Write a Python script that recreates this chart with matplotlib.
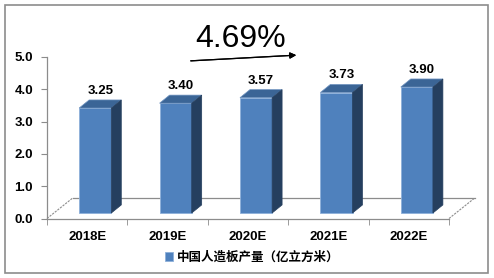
import matplotlib
matplotlib.use("Agg")
import matplotlib.pyplot as plt
from matplotlib.patches import Polygon, Rectangle

# data
years = ["2018E", "2019E", "2020E", "2021E", "2022E"]
output = [3.25, 3.40, 3.57, 3.73, 3.90]
series_name = "中国人造板产量（亿立方米）"
growth_text = "4.69%"

FRONT = "#4F81BD"
TOP = "#3B6596"
SIDE = "#253F5F"
GRID = "#8C8C8C"

# fake 3D geometry (axis units)
base = 0.17
bar_w = 0.4
bar_shift = 0.1
dx, dy = 0.124, 0.25
floor_dx, floor_y = 0.32, 0.635

W, H = 494, 278
fig = plt.figure(figsize=(W / 100, H / 100), dpi=100)
ax = fig.add_axes([47 / W, 1 - 218.5 / H, (449 - 47) / W, (218.5 - 57) / H])
ax.set_xlim(-0.5, len(years) - 0.5)
ax.set_ylim(0, 5)

# floor
ax.plot([-0.5, -0.5 + floor_dx], [0, floor_y], color=GRID, lw=0.8, ls=(0, (2, 1)),
        clip_on=False)
ax.plot([len(years) - 0.5, len(years) - 0.5 + floor_dx], [0, floor_y], color=GRID,
        lw=0.8, ls=(0, (2, 1)), clip_on=False)
ax.plot([-0.5 + floor_dx, len(years) - 0.5 + floor_dx], [floor_y, floor_y],
        color=GRID, lw=0.9, clip_on=False)

xs = [i + bar_shift for i in range(len(years))]
bars = ax.bar(xs, output, width=bar_w, bottom=base, color=FRONT,
              edgecolor="#8EB0DA", linewidth=0.6, zorder=3, clip_on=False,
              label=series_name)
for x, v in zip(xs, output):
    l, r = x - bar_w / 2, x + bar_w / 2
    t = base + v
    ax.add_patch(Polygon([(l, t), (r, t), (r + dx, t + dy), (l + dx, t + dy)],
                         closed=True, facecolor=TOP, edgecolor="#6F93C0",
                         lw=0.5, zorder=3, clip_on=False))
    ax.add_patch(Polygon([(r, base), (r + dx, base + dy), (r + dx, t + dy), (r, t)],
                         closed=True, facecolor=SIDE, edgecolor=SIDE,
                         lw=0.5, zorder=3, clip_on=False))
    ax.text(x + dx / 2, t + dy + 0.28, f"{v:.2f}", ha="center", va="center",
            fontsize=9.5, fontweight="bold", family="Liberation Sans",
            zorder=4)

# axes styling
for s in ["top", "right"]:
    ax.spines[s].set_visible(False)
for s in ["left", "bottom"]:
    ax.spines[s].set_color(GRID)
    ax.spines[s].set_linewidth(0.9)
ax.set_yticks([0, 1, 2, 3, 4, 5])
ax.set_yticklabels([f"{t:.1f}" for t in range(6)])
ax.set_xticks(range(len(years)))
ax.set_xticklabels(years)
ax.set_xticks([i - 0.5 for i in range(len(years) + 1)], minor=True)
ax.tick_params(axis="x", which="major", length=0, pad=9)
ax.tick_params(axis="x", which="minor", length=4, color=GRID, direction="out")
ax.tick_params(axis="y", length=4, color=GRID, pad=6)
for lab in ax.get_xticklabels() + ax.get_yticklabels():
    lab.set_family("Liberation Sans")
    lab.set_fontweight("bold")
    lab.set_fontsize(9.5)

# growth annotation
fig.text(241 / W, 1 - 39 / H, growth_text, ha="center", va="center",
         fontsize=23, family="Liberation Sans")
fig.add_artist(plt.annotate("", xy=(299 / W, 1 - 55 / H), xytext=(188 / W, 1 - 61 / H),
                            xycoords="figure fraction", textcoords="figure fraction",
                            arrowprops=dict(arrowstyle="-|>", color="black", lw=0.9,
                                            mutation_scale=9)))

# legend
leg = fig.legend(handles=[bars], labels=[series_name], loc="center",
                 bbox_to_anchor=(252 / W, 1 - 257 / H), frameon=False,
                 handlelength=0.7, handleheight=0.7, handletextpad=0.3,
                 prop={"family": ["Noto Sans CJK SC", "DejaVu Sans"],
                       "weight": "bold", "size": 9})

# outer frame
fig.add_artist(Rectangle((5 / W, 5 / H), (488 - 5) / W, (273 - 5) / H,
                         transform=fig.transFigure, fill=False,
                         edgecolor="#8C8C8C", lw=1.2))

fig.savefig("out.png", dpi=100)
